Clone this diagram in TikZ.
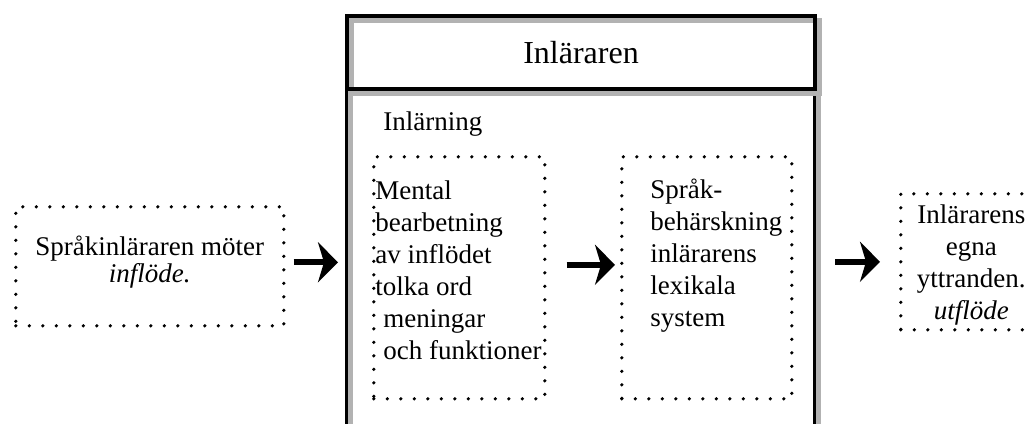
\documentclass[tikz,border=0pt]{standalone}
\usepackage{fontspec}
\setmainfont{Liberation Serif}
\usetikzlibrary{arrows.meta, positioning}

\begin{document}
\begin{tikzpicture}[
      x=0.5pt, y=-0.5pt,
      font=\fontsize{13.5}{16}\selectfont,
      % --- Rutor ---
      dotbox/.style = {draw, line width=1.8pt, dash pattern=on 0pt off 6.75pt, line cap=round, anchor=north west, inner sep=0pt},
      lineshadow/.style = {preaction={draw=black!30, line width=2.5pt, transform canvas={xshift=2pt, yshift=-2pt}}},
      titlebox/.style = {draw, lineshadow, line width=2pt, anchor=north west, inner sep=0pt, minimum width=234pt, minimum height=36.5pt, font=\fontsize{16}{19}\selectfont},
      bodybox/.style = {draw, lineshadow, line width=1.5pt, anchor=north west, inner sep=0pt, minimum width=234pt, minimum height=181.5pt},
      ltxt/.style = {inner sep=0pt, align=left},
      ctxt/.style = {inner sep=0pt, align=center},
      arrow/.style = {line width=3pt, -{Stealth[length=10pt, width=20pt, inset=3pt]}}
    ]
  \clip (0,0) rectangle (1031,423);

  % --- Inläraren ---
  \node [bodybox] (body) at (345,87) {};
  \node [titlebox] (title) at (345,14) {Inläraren};
  \node [ltxt, anchor=base west] (learning) at (383,130) {Inlärning};

  % --- Prickade rutor ---
  \node [dotbox, minimum width=134pt, minimum height=59.5pt] (inbox) at (14,205) {};
  \node [dotbox, minimum width=85.5pt, minimum height=121pt] (mental) at (372,155) {};
  \node [dotbox, minimum width=85pt, minimum height=121pt] (mastery) at (620,155) {};
  \node [dotbox, minimum width=70.5pt, minimum height=68pt] (outbox) at (899,192) {};

  % --- Texter ---
  \node [ctxt, below=15.5pt of inbox.north] (intext) {Språkinläraren möter\\[-2.5pt]\textit{inflöde.}};
  \node [ltxt, below right=12.5pt and 1.5pt of mental.north west] (mentaltext)
        {Mental\\bearbetning\\av inflödet\\tolka ord\\\hspace*{4pt}meningar\\\hspace*{4pt}och funktioner};
  \node [ltxt, below right=12pt and 15pt of mastery.north west] (masterytext)
        {Språk-\\behärskning\\inlärarens\\lexikala\\system};
  \node [ctxt, below=6pt of outbox.north] (outtext) {Inlärarens\\egna\\yttranden.\\\textit{utflöde}};

  % --- Pilar ---
  \draw [arrow] ([xshift=4pt, yshift=2pt]inbox.east) -- ([xshift=-3.5pt, yshift=2pt]inbox.east -| body.west);
  \draw [arrow] ([xshift=10pt, yshift=6.5pt]mental.east) -- ([xshift=-2.5pt, yshift=6.5pt]mastery.west);
  \draw [arrow] ([xshift=9.5pt]outbox.west -| body.east) -- ([xshift=-9.5pt]outbox.west);

\end{tikzpicture}
\end{document}
